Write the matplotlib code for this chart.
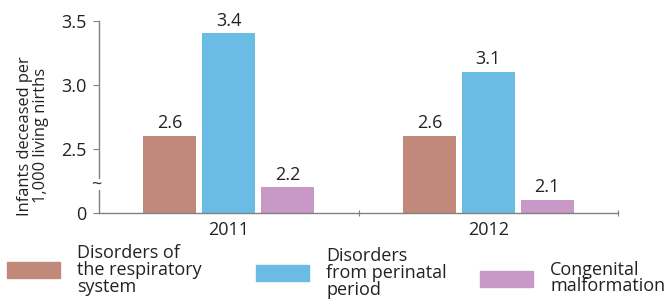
import matplotlib.pyplot as plt
import numpy as np
from matplotlib.patches import Rectangle
from matplotlib.transforms import offset_copy

plt.rcParams['font.family'] = ['Open Sans', 'DejaVu Sans']

years = ["2011", "2012"]
series = ["Disorders of\nthe respiratory\nsystem",
          "Disorders\nfrom perinatal\nperiod",
          "Congenital\nmalformation"]
respiratory = [2.6, 2.6]
perinatal = [3.4, 3.1]
congenital = [2.2, 2.1]
colors = ["#C0897A", "#6ABCE5", "#C899C6"]

# broken axis: everything below 2.0 is cut away, 2.0 shown as "0"
base = 2.0
FS = 13
TXT = '#222222'

fig = plt.figure(figsize=(6.65, 3.02), dpi=100)
ax = fig.add_axes([99 / 665, 1 - 212.5 / 302, 519 / 665, 192 / 302])

x = np.arange(len(years))
width = 0.204
pitch = 0.227
for i, vals in enumerate([respiratory, perinatal, congenital]):
    pos = x + (i - 1) * pitch
    heights = [v - base for v in vals]
    ax.bar(pos, heights, width, bottom=base, color=colors[i], linewidth=0)
    for p, v in zip(pos, vals):
        ax.text(p, v + 0.025, f"{v:.1f}", ha='center', va='bottom',
                fontsize=FS, color=TXT)

ax.set_xlim(-0.5, 1.5)
ax.set_ylim(base, 3.5)
ax.set_yticks([2.0, 2.5, 3.0, 3.5])
ax.set_yticklabels(["0", "2.5", "3.0", "3.5"])
ax.set_xticks(x)
ax.set_xticklabels(years)
ax.set_xticks([0.5, 1.5], minor=True)
ax.tick_params(axis='y', length=4, width=0.8, color='#808080', labelsize=FS,
               labelcolor=TXT, pad=5)
ax.tick_params(axis='x', which='major', length=0, labelsize=FS,
               labelcolor=TXT, pad=6)
ax.tick_params(axis='x', which='minor', length=4, width=0.8, color='#808080',
               direction='inout')
for s in ['top', 'right']:
    ax.spines[s].set_visible(False)
for s in ['left', 'bottom']:
    ax.spines[s].set_color('#808080')
    ax.spines[s].set_linewidth(1.0)

ax.set_ylabel("Infants deceased per\n1,000 living nirths", fontsize=11.8,
              color=TXT, linespacing=0.98)
ax.yaxis.set_label_coords(-0.097, 0.40)

# axis break mark: gap in the spine with a tilde beside it
ax.add_patch(Rectangle((-0.01, 2.175), 0.02, 0.09, transform=ax.get_yaxis_transform(),
                       facecolor='white', edgecolor='none', clip_on=False, zorder=5))
ax.text(0, 2.215, "~", transform=offset_copy(ax.get_yaxis_transform(), fig, x=-3, units='dots'),
        ha='center', va='center', fontsize=FS, color='#333333', zorder=6)

# legend drawn by hand, staggered like the original
patch_x = [7, 256, 480]
patch_y = [262, 265, 271]
text_y = [270, 273, 278]
for i in range(3):
    fig.add_artist(Rectangle((patch_x[i] / 665, 1 - (patch_y[i] + 16) / 302),
                             53 / 665, 16 / 302, color=colors[i],
                             transform=fig.transFigure))
    fig.text((patch_x[i] + 70) / 665, 1 - text_y[i] / 302, series[i],
             ha='left', va='center', fontsize=FS, color=TXT,
             linespacing=0.92)

fig.savefig("out.png", dpi=100)
